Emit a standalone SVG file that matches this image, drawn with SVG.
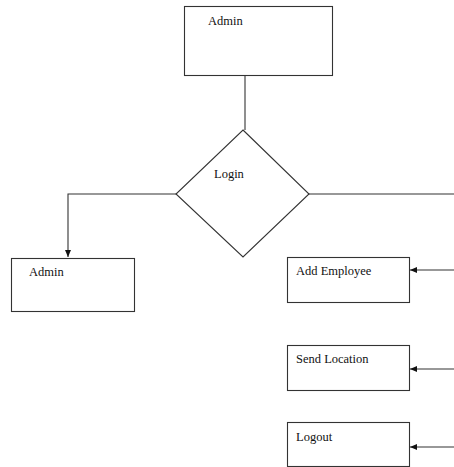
<svg xmlns="http://www.w3.org/2000/svg" width="454" height="467" viewBox="0 0 454 467">
  <style>
    .box { fill: #fff; stroke: #333; stroke-width: 1.1; }
    .line { fill: none; stroke: #333; stroke-width: 1.1; }
    .label { font-family: "Liberation Serif", "Times New Roman", serif; font-size: 12.5px; fill: #111; }
  </style>
  <defs>
    <marker id="arrow" markerWidth="8" markerHeight="8" refX="7" refY="4" orient="auto" markerUnits="userSpaceOnUse">
      <path d="M0,1 L7,4 L0,7 Z" fill="#111"/>
    </marker>
  </defs>
  <rect width="454" height="467" fill="#fff"/>

  <g id="connectors">
    <line class="line" x1="245" y1="76" x2="245" y2="130"/>
    <polyline class="line" points="176,194 68,194 68,257" marker-end="url(#arrow)"/>
    <line class="line" x1="309" y1="194" x2="454" y2="194"/>
    <line class="line" x1="454" y1="270" x2="410" y2="270" marker-end="url(#arrow)"/>
    <line class="line" x1="454" y1="369" x2="410" y2="369" marker-end="url(#arrow)"/>
    <line class="line" x1="454" y1="447" x2="410" y2="447" marker-end="url(#arrow)"/>
  </g>

  <g id="admin-top">
    <rect class="box" x="184.5" y="6.5" width="148" height="69"/>
    <text class="label" x="208" y="25">Admin</text>
  </g>

  <g id="login">
    <polygon class="box" points="243,130 309,194 243,257 176,194"/>
    <text class="label" x="214" y="178">Login</text>
  </g>

  <g id="admin">
    <rect class="box" x="11.5" y="258.5" width="123" height="53"/>
    <text class="label" x="29" y="276">Admin</text>
  </g>

  <g id="add-employee">
    <rect class="box" x="287.5" y="257.5" width="122" height="45"/>
    <text class="label" x="296" y="275">Add Employee</text>
  </g>

  <g id="send-location">
    <rect class="box" x="287.5" y="345.5" width="122" height="45"/>
    <text class="label" x="296" y="363">Send Location</text>
  </g>

  <g id="logout">
    <rect class="box" x="287.5" y="422.5" width="122" height="44"/>
    <text class="label" x="296" y="441">Logout</text>
  </g>
</svg>
